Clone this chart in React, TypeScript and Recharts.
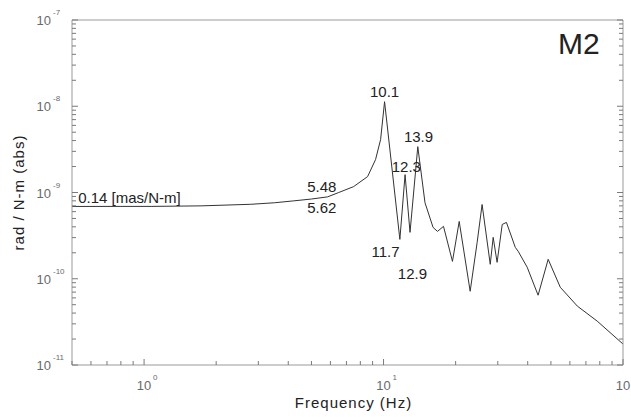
import React from "react";
import { LineChart, Line, XAxis, YAxis, ReferenceDot, Label } from "recharts";

// frequency response of M2 (Hz, rad/N-m)
const freqHz = [
  0.5, 0.8, 1.07, 1.73, 2.79, 3.5, 4.22, 5.0, 5.84, 6.5, 7.5, 8.58, 9.26, 9.72, 10.1,
  11.7, 12.3, 12.9, 13.9, 14.9, 16.1, 16.8, 17.8, 19.4, 20.7, 23.0, 24.6, 25.8, 27.9,
  28.7, 29.8, 31.3, 32.6, 35.5, 36.5, 39.8, 44.2, 48.7, 54.7, 64.5, 78.0, 100,
];
const magnitude = [
  6.89e-10, 6.9e-10, 6.9e-10, 7.0e-10, 7.3e-10, 7.6e-10, 8.0e-10, 8.4e-10, 8.9e-10, 1.0e-9,
  1.17e-9, 1.53e-9, 2.41e-9, 4.1e-9, 1.13e-8, 2.86e-10, 1.61e-9, 3.45e-10, 3.4e-9, 7.6e-10,
  3.94e-10, 3.54e-10, 4.05e-10, 1.59e-10, 4.62e-10, 7.16e-11, 2.64e-10, 7.26e-10, 1.47e-10,
  3.02e-10, 1.55e-10, 4.26e-10, 4.5e-10, 2.31e-10, 2.08e-10, 1.36e-10, 6.44e-11, 1.68e-10,
  7.97e-11, 4.81e-11, 3.23e-11, 1.75e-11,
];

// peak / notch labels (text, freq, magnitude at text centre)
const noteText = ["10.1", "13.9", "12.3", "5.48", "5.62", "11.7", "12.9"];
const noteFreq = [10.1, 14.0, 12.45, 5.52, 5.52, 10.2, 13.2];
const noteMag = [1.47e-8, 4.44e-9, 2.0e-9, 1.17e-9, 6.71e-10, 2.08e-10, 1.13e-10];
const staticText = "0.14 [mas/N-m]";
const staticFreq = 0.531;
const staticMag = 8.75e-10;

const xTicks = [0.5, 0.6, 0.7, 0.8, 0.9, 1, 2, 3, 4, 5, 6, 7, 8, 9, 10, 20, 30, 40, 50, 60, 70, 80, 90, 100];
const yTicks: number[] = [];
for (let e = -11; e < -7; e++) {
  for (let k = 1; k < 10; k++) yTicks.push(k * Math.pow(10, e));
}
yTicks.push(1e-7);

const data = freqHz.map((f, i) => ({ f, m: magnitude[i] }));

const AXIS = "#9a9a9a";
const TICKMARK = "#7a7a7a";
const TICK = "#6a6a6a";
const INK = "#222";

const isMajor = (v: number) => Math.abs(Math.log10(v) - Math.round(Math.log10(v))) < 1e-6;
const expOf = (v: number) => Math.round(Math.log10(v));

function BottomTick({ x, y, payload }: any) {
  const v = payload.value;
  const major = isMajor(v);
  return (
    <g>
      <line x1={x} x2={x} y1={y} y2={y - (major ? 6 : 4)} stroke={TICKMARK} />
      {major && (
        <>
          <text x={x} y={y + 25} textAnchor="middle" fill={TICK} fontSize={13}>10</text>
          <text x={x + 9} y={y + 15} fill={TICK} fontSize={8}>{expOf(v)}</text>
        </>
      )}
    </g>
  );
}

function TopTick({ x, y, payload }: any) {
  const major = isMajor(payload.value);
  return <line x1={x} x2={x} y1={y} y2={y + (major ? 6 : 4)} stroke={TICKMARK} />;
}

function LeftTick({ x, y, payload }: any) {
  const v = payload.value;
  const major = isMajor(v);
  return (
    <g>
      <line x1={x} x2={x + (major ? 6 : 4)} y1={y} y2={y} stroke={TICKMARK} />
      {major && (
        <>
          <text x={x - 21} y={y + 5} textAnchor="end" fill={TICK} fontSize={13}>10</text>
          <text x={x - 19} y={y - 5} fill={TICK} fontSize={8}>{expOf(v)}</text>
        </>
      )}
    </g>
  );
}

function RightTick({ x, y, payload }: any) {
  const major = isMajor(payload.value);
  return <line x1={x} x2={x - (major ? 6 : 4)} y1={y} y2={y} stroke={TICKMARK} />;
}

export default function App() {
  return (
    <div style={{ position: "absolute", left: 0, top: 0, fontFamily: "'Liberation Sans', Arial, sans-serif", background: "#fff" }}>
      <LineChart width={631} height={417} data={data} margin={{ top: 19, right: 0, bottom: 0, left: 0 }}>
        <XAxis
          dataKey="f"
          type="number"
          scale="log"
          domain={[0.5, 100]}
          allowDataOverflow
          ticks={xTicks}
          interval={0}
          tick={<BottomTick />}
          tickLine={false}
          tickSize={0}
          tickMargin={0}
          height={52}
          stroke={AXIS}
        >
          <Label value="Frequency (Hz)" position="insideBottom" offset={9} dx={6} fill={INK} fontSize={15} letterSpacing={1} />
        </XAxis>
        <XAxis
          xAxisId="top"
          orientation="top"
          type="number"
          scale="log"
          domain={[0.5, 100]}
          allowDataOverflow
          ticks={xTicks}
          interval={0}
          tick={<TopTick />}
          tickLine={false}
          tickSize={0}
          tickMargin={0}
          height={1}
          stroke={AXIS}
        />
        <YAxis
          type="number"
          scale="log"
          domain={[1e-11, 1e-7]}
          allowDataOverflow
          ticks={yTicks}
          interval={0}
          tick={<LeftTick />}
          tickLine={false}
          tickSize={0}
          tickMargin={0}
          width={72}
          stroke={AXIS}
        >
          <Label
            value="rad / N-m (abs)"
            angle={-90}
            position="insideLeft"
            offset={19}
            fill={INK}
            fontSize={15}
            letterSpacing={1}
            style={{ textAnchor: "middle" }}
          />
        </YAxis>
        <YAxis
          yAxisId="right"
          orientation="right"
          type="number"
          scale="log"
          domain={[1e-11, 1e-7]}
          allowDataOverflow
          ticks={yTicks}
          interval={0}
          tick={<RightTick />}
          tickLine={false}
          tickSize={0}
          tickMargin={0}
          width={8}
          stroke={AXIS}
        />
        <Line
          dataKey="m"
          type="linear"
          stroke="#333"
          strokeWidth={1}
          dot={false}
          isAnimationActive={false}
        />
        {noteText.map((t, i) => (
          <ReferenceDot
            key={t + i}
            x={noteFreq[i]}
            y={noteMag[i]}
            r={0}
            fill="none"
            stroke="none"
            label={{ value: t, position: "center", fill: INK, fontSize: 15 }}
          />
        ))}
        <ReferenceDot
          x={staticFreq}
          y={staticMag}
          r={0}
          fill="none"
          stroke="none"
          label={{ value: staticText, position: "right", offset: 0, fill: INK, fontSize: 15 }}
        />
      </LineChart>
      <div style={{ position: "absolute", left: 558, top: 27, fontSize: 30, lineHeight: "34px", color: INK }}>M2</div>
    </div>
  );
}
